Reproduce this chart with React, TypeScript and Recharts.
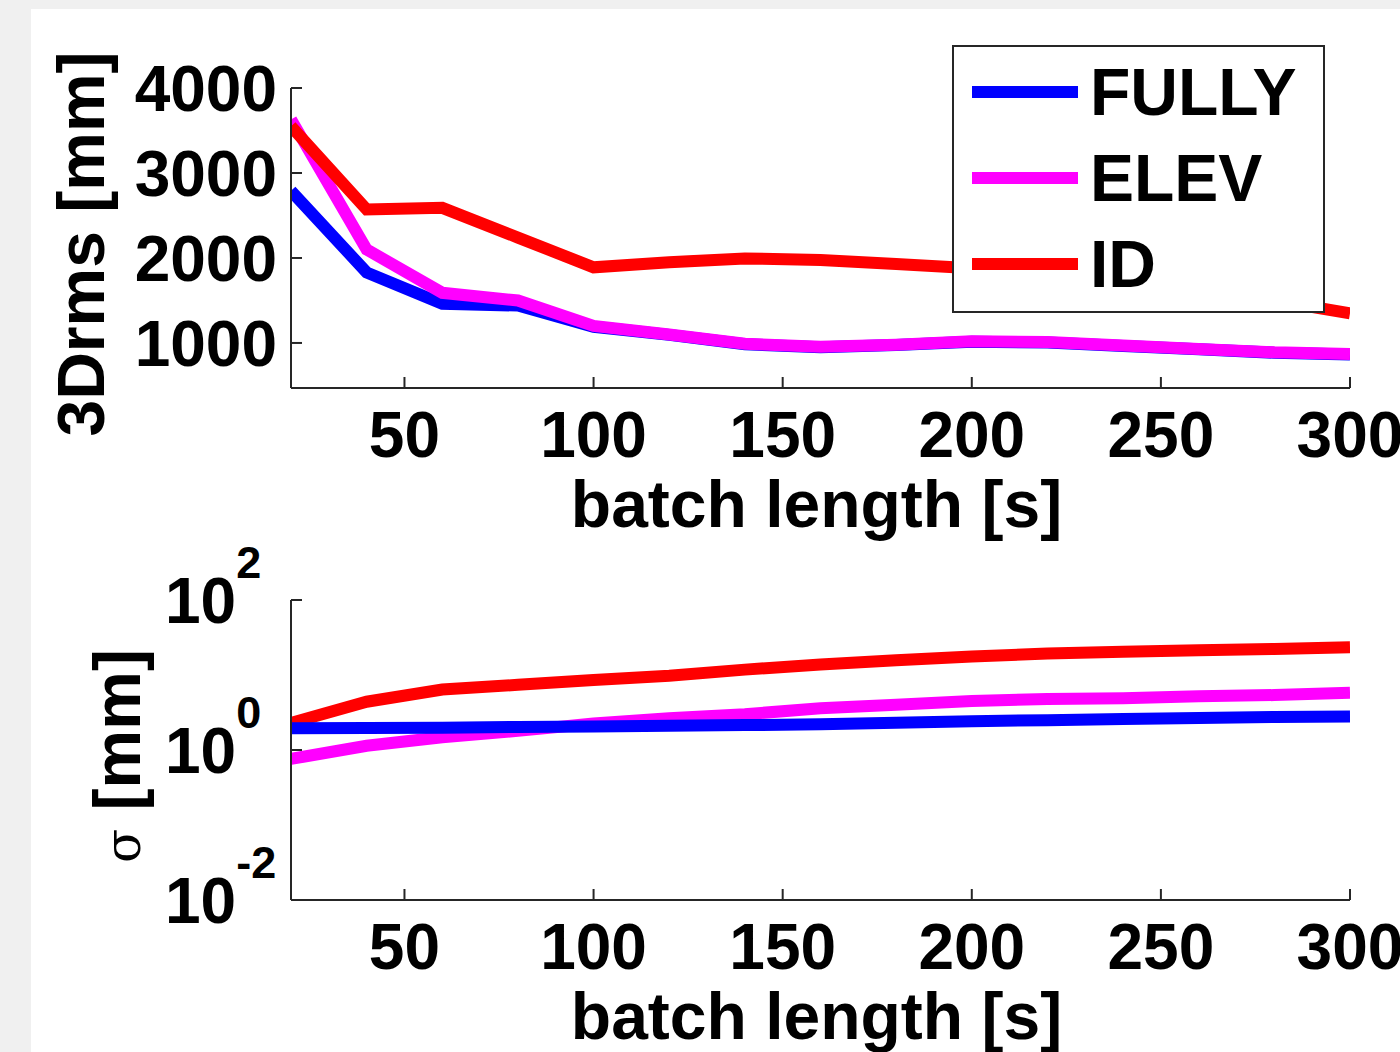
import React from 'react';
import { LineChart, Line, XAxis, YAxis, Legend } from 'recharts';

// batch length [s]
const batchLength = [20, 40, 60, 80, 100, 120, 140, 160, 180, 200, 220, 240, 260, 280, 300];

// 3D rms [mm]
const rmsFully = [2790, 1830, 1460, 1440, 1190, 1095, 985, 950, 975, 1015, 1005, 965, 925, 885, 865];
const rmsElev = [3630, 2100, 1590, 1500, 1200, 1100, 990, 955, 980, 1020, 1010, 970, 930, 890, 870];
const rmsId = [3550, 2570, 2590, 2240, 1890, 1950, 1995, 1975, 1930, 1880, 1830, 1750, 1640, 1500, 1350];

// sigma [mm] (log axis)
const sigmaFully = [1.95, 1.96, 1.98, 2.03, 2.06, 2.1, 2.15, 2.2, 2.3, 2.42, 2.5, 2.6, 2.68, 2.75, 2.8];
const sigmaElev = [0.76, 1.14, 1.48, 1.8, 2.25, 2.65, 3.0, 3.6, 4.0, 4.5, 4.8, 4.9, 5.2, 5.4, 5.8];
const sigmaId = [2.3, 4.4, 6.4, 7.4, 8.6, 9.8, 11.8, 13.8, 15.7, 17.6, 19.3, 20.4, 21.3, 22.2, 23.4];

const xTicks = [50, 100, 150, 200, 250, 300];
const rmsTicks = [1000, 2000, 3000, 4000];
const sigmaTicks = [0.01, 1, 100];
const sigmaTickExp = ['-2', '0', '2'];

const seriesNames = ['FULLY', 'ELEV', 'ID'];
const seriesColors = ['#0000ff', '#ff00ff', '#ff0000'];

const rmsData = batchLength.map((t, i) => ({ t, FULLY: rmsFully[i], ELEV: rmsElev[i], ID: rmsId[i] }));
const sigmaData = batchLength.map((t, i) => ({ t, FULLY: sigmaFully[i], ELEV: sigmaElev[i], ID: sigmaId[i] }));

const FONT = '"Liberation Sans", Arial, Helvetica, sans-serif';
const AXIS = '#262626';
const LW = 12;
const tickStyle = { fill: '#000', fontSize: 64, fontWeight: 'bold' as const, fontFamily: FONT };

const XTitle = ({ viewBox }: any) => (
  <text
    x={viewBox.x + viewBox.width / 2 - 4}
    y={viewBox.y + 139}
    textAnchor="middle"
    fontSize={66}
    fontWeight="bold"
    fontFamily={FONT}
    fill="#000"
  >
    batch length [s]
  </text>
);

const RmsTitle = ({ viewBox }: any) => {
  const cx = viewBox.x - 11;
  const cy = viewBox.y + viewBox.height / 2 + 6;
  return (
    <text
      x={cx}
      y={cy}
      transform={`rotate(-90, ${cx}, ${cy})`}
      textAnchor="middle"
      dy="0.36em"
      fontSize={66}
      fontWeight="bold"
      fontFamily={FONT}
      fill="#000"
    >
      3Drms [mm]
    </text>
  );
};

const SigmaTitle = ({ viewBox }: any) => {
  const cx = viewBox.x + 25;
  const cy = viewBox.y + viewBox.height / 2 + 6;
  return (
    <text
      x={cx}
      y={cy}
      transform={`rotate(-90, ${cx}, ${cy})`}
      textAnchor="middle"
      dy="0.36em"
      fontSize={66}
      fontWeight="bold"
      fontFamily={FONT}
      fill="#000"
    >
      <tspan fontWeight="normal" fontSize={50} fontFamily='"DejaVu Serif", serif'>σ</tspan>
      <tspan> [mm]</tspan>
    </text>
  );
};

// 10^n tick labels for the log axis
const PowTick = (props: any) => {
  const { x, y, payload } = props;
  const i = sigmaTicks.indexOf(payload.value);
  return (
    <text x={x - 112} y={y} dy={23} fontSize={64} fontWeight="bold" fontFamily={FONT} fill="#000">
      10
      <tspan dy={-45} fontSize={45}>{sigmaTickExp[i]}</tspan>
    </text>
  );
};

const LegendBox = () => (
  <div
    style={{
      position: 'relative',
      width: 373,
      height: 268,
      boxSizing: 'border-box',
      border: `2px solid ${AXIS}`,
      background: '#fff',
    }}
  >
    {seriesNames.map((name, i) => (
      <div
        key={name}
        style={{
          position: 'absolute',
          left: 18,
          top: 45 + 86 * i - 40,
          height: 80,
          display: 'flex',
          alignItems: 'center',
        }}
      >
        <div style={{ width: 106, height: LW, background: seriesColors[i] }} />
        <span
          style={{
            marginLeft: 12,
            fontSize: 66,
            fontWeight: 'bold',
            lineHeight: 1,
            fontFamily: FONT,
            color: '#000',
          }}
        >
          {name}
        </span>
      </div>
    ))}
  </div>
);

const xAxisProps = {
  dataKey: 't',
  type: 'number' as const,
  domain: [20, 300],
  ticks: xTicks,
  interval: 0 as const,
  allowDataOverflow: true,
  tickSize: -11,
  tickMargin: 35,
  tick: tickStyle,
  axisLine: { stroke: AXIS, strokeWidth: 2 },
  tickLine: { stroke: AXIS, strokeWidth: 2 },
};

export default function App() {
  return (
    <div
      style={{
        position: 'absolute',
        left: 0,
        top: 0,
        width: 1400,
        height: 1052,
        background: '#f0f0f0',
        overflow: 'hidden',
        fontFamily: FONT,
      }}
    >
      <div style={{ position: 'absolute', left: 31, top: 9, right: 0, bottom: 0, background: '#fff' }} />

      {/* top: 3D rms */}
      <div style={{ position: 'absolute', left: 0, top: 0 }}>
        <LineChart width={1400} height={560} data={rmsData} margin={{ top: 88, right: 50, bottom: 12, left: 91 }}>
          <XAxis {...xAxisProps} height={160} label={{ content: XTitle }} />
          <YAxis
            type="number"
            domain={[470, 4000]}
            ticks={rmsTicks}
            interval={0}
            allowDataOverflow
            width={200}
            tickSize={-11}
            tickMargin={25}
            tick={tickStyle}
            axisLine={{ stroke: AXIS, strokeWidth: 2 }}
            tickLine={{ stroke: AXIS, strokeWidth: 2 }}
            label={{ content: RmsTitle }}
          />
          {seriesNames.map((name, i) => (
            <Line
              key={name}
              type="linear"
              dataKey={name}
              stroke={seriesColors[i]}
              strokeWidth={LW}
              dot={false}
              activeDot={false}
              isAnimationActive={false}
            />
          ))}
          <Legend
            layout="vertical"
            align="center"
            verticalAlign="middle"
            wrapperStyle={{ left: 952, top: 45, width: 373, height: 268 }}
            content={LegendBox}
          />
        </LineChart>
      </div>

      {/* bottom: sigma, log scale */}
      <div style={{ position: 'absolute', left: 0, top: 512 }}>
        <LineChart width={1400} height={540} data={sigmaData} margin={{ top: 88, right: 50, bottom: 12, left: 91 }}>
          <XAxis {...xAxisProps} height={140} label={{ content: XTitle }} />
          <YAxis
            type="number"
            scale="log"
            domain={[0.01, 100]}
            ticks={sigmaTicks}
            interval={0}
            allowDataOverflow
            width={200}
            tickSize={-11}
            tickMargin={25}
            tick={PowTick}
            axisLine={{ stroke: AXIS, strokeWidth: 2 }}
            tickLine={{ stroke: AXIS, strokeWidth: 2 }}
            label={{ content: SigmaTitle }}
          />
          {[2, 1, 0].map((i) => (
            <Line
              key={seriesNames[i]}
              type="linear"
              dataKey={seriesNames[i]}
              stroke={seriesColors[i]}
              strokeWidth={LW}
              dot={false}
              activeDot={false}
              isAnimationActive={false}
            />
          ))}
        </LineChart>
      </div>
    </div>
  );
}
